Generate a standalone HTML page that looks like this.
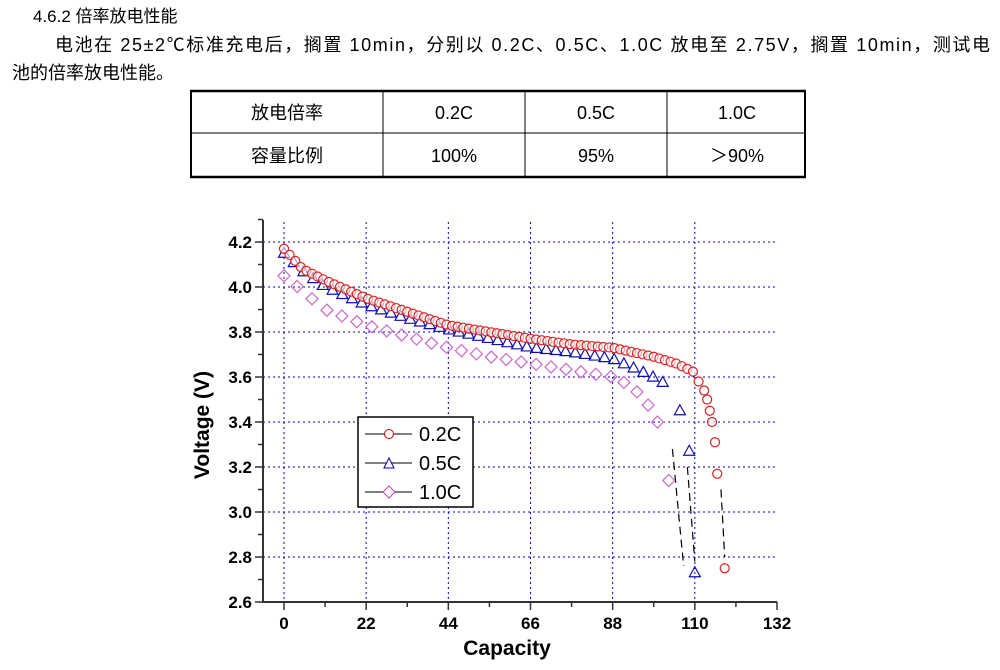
<!DOCTYPE html>
<html><head><meta charset="utf-8"><style>
html,body{margin:0;padding:0;background:#fff;}
svg{display:block;}
</style></head><body>
<svg id="s" width="1000" height="670" xmlns="http://www.w3.org/2000/svg" font-family="Liberation Sans, Noto Sans CJK SC, sans-serif">
<rect width="1000" height="670" fill="#fff"/>
<text x="33" y="22" font-size="17">4.6.2  倍率放电性能</text>
<text x="55" y="51" font-size="18" textLength="935" lengthAdjust="spacing">电池在 25±2℃标准充电后，搁置 10min，分别以 0.2C、0.5C、1.0C 放电至 2.75V，搁置 10min，测试电</text>
<text x="12" y="79" font-size="18">池的倍率放电性能。</text>
<g stroke="#000" fill="none">
<line x1="190" y1="91" x2="806" y2="91" stroke-width="2.5"/>
<line x1="190" y1="133" x2="806" y2="133" stroke-width="1"/>
<line x1="190" y1="177" x2="806" y2="177" stroke-width="2.5"/>
<line x1="191" y1="91" x2="191" y2="177" stroke-width="2"/>
<line x1="805" y1="91" x2="805" y2="177" stroke-width="2"/>
<line x1="383" y1="91" x2="383" y2="177"/>
<line x1="525" y1="91" x2="525" y2="177"/>
<line x1="667" y1="91" x2="667" y2="177"/>
</g>
<g font-size="18" text-anchor="middle">
<text x="287" y="119">放电倍率</text><text x="454" y="119">0.2C</text><text x="596" y="119">0.5C</text><text x="737" y="119">1.0C</text>
<text x="287" y="162">容量比例</text><text x="454" y="162">100%</text><text x="596" y="162">95%</text><text x="737" y="162">＞90%</text>
</g>
<g id="grid" stroke="#0000cc" stroke-width="1" stroke-dasharray="2,3"></g>
<g id="axes" stroke="#333" stroke-width="2"></g>
<g id="data" fill="none" stroke-width="1.2"></g>
<g font-size="17" font-weight="bold" text-anchor="end" id="ylab"></g>
<g font-size="17" font-weight="bold" text-anchor="middle" id="xlab"></g>
<text x="507" y="655" font-size="21" font-weight="bold" text-anchor="middle">Capacity</text>
<text transform="translate(209,425) rotate(-90)" font-size="21" font-weight="bold" text-anchor="middle">Voltage (V)</text>
<rect x="358" y="417" width="115" height="90" fill="#fff" stroke="#000" stroke-width="1.5"/>
<g stroke="#333" stroke-width="1.2">
<line x1="365" y1="434" x2="412" y2="434"/><line x1="365" y1="463" x2="412" y2="463"/><line x1="365" y1="492" x2="412" y2="492"/>
</g>
<circle cx="389" cy="434" r="4.5" fill="#fff" stroke="#c00"/>
<polygon points="389,458 384,468 394,468" fill="#fff" stroke="#00a"/>
<polygon points="389,486 395,492 389,498 383,492" fill="#fff" stroke="#b4b"/>
<g font-size="20"><text x="419" y="441">0.2C</text><text x="419" y="470">0.5C</text><text x="419" y="499">1.0C</text></g>
</svg>
<script>
var NS="http://www.w3.org/2000/svg";
function X(c){return 284+c*(777-284)/132;}
function Y(v){return 242+(4.2-v)*225;}
function el(p,t,a){var e=document.createElementNS(NS,t);for(var k in a)e.setAttribute(k,a[k]);document.getElementById(p).appendChild(e);return e;}
for(var v=2.8;v<=4.21;v+=0.2){el('grid','line',{x1:263,x2:777,y1:Y(v),y2:Y(v)});}
for(var c=0;c<=110;c+=22){el('grid','line',{x1:X(c),x2:X(c),y1:222,y2:602});}
el('axes','line',{x1:263,y1:220,x2:263,y2:603});
el('axes','line',{x1:262,y1:602,x2:777,y2:602});
for(var v=2.6;v<=4.31;v+=0.1){var maj=Math.round(v*10)%2==0;el('axes','line',{x1:maj?255:258,x2:263,y1:Y(v),y2:Y(v),'stroke-width':1.5});}
for(var c=0;c<=132;c+=11){var maj=c%22==0;el('axes','line',{x1:X(c),x2:X(c),y1:602,y2:maj?610:607,'stroke-width':1.5});}
for(var v=2.6;v<=4.21;v+=0.2){el('ylab','text',{x:252,y:Y(v)+6}).textContent=v.toFixed(1);}
for(var c=0;c<=132;c+=22){el('xlab','text',{x:X(c),y:629}).textContent=c;}
function interp(pts,x){for(var i=0;i<pts.length-1;i++){if(x<=pts[i+1][0]){var t=(x-pts[i][0])/(pts[i+1][0]-pts[i][0]);return pts[i][1]+t*(pts[i+1][1]-pts[i][1]);}}return pts[pts.length-1][1];}
el('data','line',{x1:X(104),y1:Y(3.28),x2:X(107),y2:Y(2.76),stroke:'#000','stroke-dasharray':'8,5'});
el('data','line',{x1:X(108),y1:Y(3.2),x2:X(110),y2:Y(2.78),stroke:'#000','stroke-dasharray':'8,5'});
el('data','line',{x1:X(117),y1:Y(3.1),x2:X(118),y2:Y(2.8),stroke:'#000','stroke-dasharray':'8,5'});
var p1=[[0,4.05],[11,3.90],[22,3.83],[33,3.78],[44,3.73],[55,3.69],[66,3.66],[77,3.63],[88,3.60],[93,3.56],[97,3.49],[100,3.40],[103,3.14]];
var xs1=[0,3.5,7.5,11.5,15.5,19.5,23.5,27.5,31.5,35.5,39.5,43.5,47.5,51.5,55.5,59.5,63.5,67.5,71.5,75.5,79.5,83.5,87.5,91,94.5,97.5,100,103];
xs1.forEach(function(c){var x=X(c),y=Y(interp(p1,c));el('data','polygon',{points:x+','+(y-6)+' '+(x+6)+','+y+' '+x+','+(y+6)+' '+(x-6)+','+y,stroke:'#c6c'});});
var p2=[[0,4.15],[5,4.07],[11,4.00],[22,3.92],[33,3.86],[44,3.81],[55,3.77],[66,3.73],[77,3.71],[88,3.68],[95,3.63],[100,3.59],[102,3.57],[106,3.45],[108.5,3.27],[110,2.73]];
var xs2=[];for(var c=0;c<=102;c+=2.6)xs2.push(c);xs2.push(106,108.5,110);
xs2.forEach(function(c){var x=X(c),y=Y(interp(p2,c));el('data','polygon',{points:x+','+(y-6)+' '+(x+5.5)+','+(y+4)+' '+(x-5.5)+','+(y+4),stroke:'#11a'});});
var p3=[[0,4.17],[5,4.08],[11,4.03],[22,3.95],[33,3.89],[44,3.83],[55,3.80],[66,3.77],[77,3.745],[88,3.73],[99,3.69],[105,3.66],[110,3.62],[111,3.58],[112.5,3.54],[113.3,3.50],[114,3.45],[114.6,3.40],[115.4,3.31],[116,3.17],[118,2.75]];
var xs3=[];for(var c=0;c<=110;c+=1.5)xs3.push(c);xs3.push(111,112.5,113.3,114,114.6,115.4,116,118);
xs3.forEach(function(c){el('data','circle',{cx:X(c),cy:Y(interp(p3,c)),r:4.5,stroke:'#d22',fill:'#fff','fill-opacity':0.6});});
</script>
</body></html>
